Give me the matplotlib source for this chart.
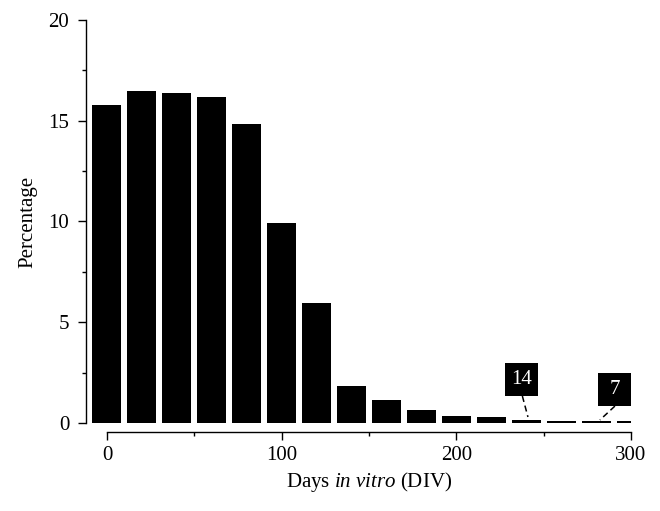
import matplotlib
matplotlib.use("Agg")
import matplotlib.pyplot as plt
from matplotlib.patches import Rectangle

days = [0, 20, 40, 60, 80, 100, 120, 140, 160, 180, 200, 220, 240, 260, 280, 300]
percentage = [15.8, 16.5, 16.4, 16.2, 14.85, 9.93, 5.95, 1.84, 1.12, 0.65, 0.35, 0.28, 0.15, 0.11, 0.11, 0.11]
annotations = [("14", 240), ("7", 280)]

plt.rcParams['font.family'] = ['Liberation Serif', 'DejaVu Serif']
plt.rcParams['mathtext.fontset'] = 'custom'
plt.rcParams['mathtext.rm'] = 'Liberation Serif'
plt.rcParams['mathtext.it'] = 'Liberation Serif:italic'

FS = 15

fig = plt.figure(figsize=(6.6, 5.11), dpi=100)
ax = fig.add_axes([86/660, 1-423/511, (631-86)/660, (423-20)/511])

ax.bar(days, percentage, width=16.6, color='black', edgecolor='none')
ax.set_xlim(-12, 300)
ax.set_ylim(0, 20)

for s in ['top', 'right']:
    ax.spines[s].set_visible(False)
ax.spines['bottom'].set_position(('outward', 6.5))
ax.spines['bottom'].set_bounds(0, 300)
ax.spines['left'].set_bounds(0, 20)
for s in ['bottom', 'left']:
    ax.spines[s].set_linewidth(1.0)

ax.set_xticks([0, 100, 200, 300])
ax.set_xticks([50, 150, 250], minor=True)
ax.set_yticks([0, 5, 10, 15, 20])
ax.set_yticks([2.5, 7.5, 12.5, 17.5], minor=True)
ax.tick_params(which='major', direction='out', length=6, width=1.0, labelsize=FS)
ax.tick_params(which='minor', direction='out', length=3, width=1.0)
ax.tick_params(axis='y', which='major', pad=6)
ax.tick_params(axis='x', which='major', pad=4)

ax.set_ylabel('Percentage', fontsize=FS, labelpad=8)
ax.set_xlabel('Days $\\mathit{in\\ vitro}$ (DIV)', fontsize=FS, labelpad=4)
ax.xaxis.label.set_x((150 + 12) / 312)

# annotation boxes (position, size in data units) and leader-line endpoints
box_center = {"14": (237.3, 2.16), "7": (290.5, 1.66)}
box_w, box_h = 18.9, 1.64
leader = {"14": ((237.8, 1.34), (241, 0.30)), "7": ((290.8, 0.84), (282.2, 0.15))}
for txt, d in annotations:
    cx, cy = box_center[txt]
    ax.add_patch(Rectangle((cx - box_w/2, cy - box_h/2), box_w, box_h,
                           facecolor='black', edgecolor='none', clip_on=False, zorder=4))
    ax.text(cx, cy, txt, color='white', fontsize=FS, ha='center', va='center', zorder=5)
    (x0, y0), (x1, y1) = leader[txt]
    ax.plot([x0, x1], [y0, y1], color='black', lw=1.1, dashes=(4, 2.5), zorder=4, clip_on=False)

fig.savefig('out.png', dpi=100)
